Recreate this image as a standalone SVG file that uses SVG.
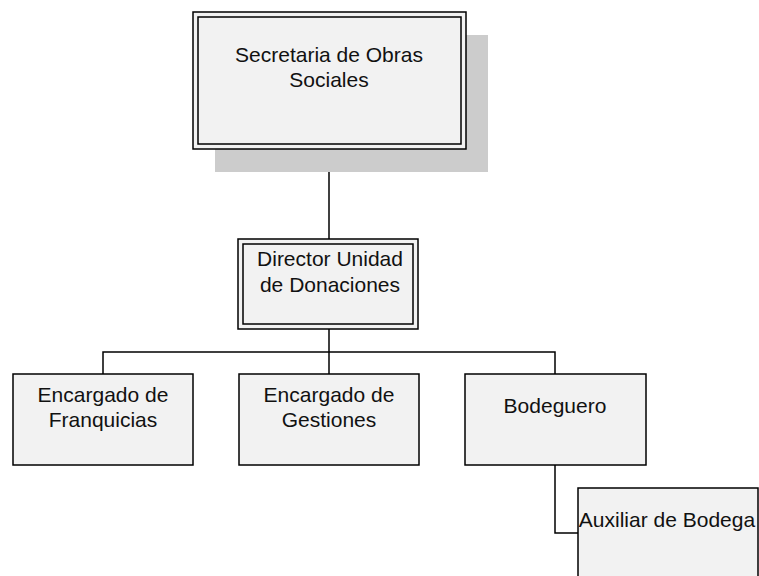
<svg xmlns="http://www.w3.org/2000/svg" width="759" height="576" viewBox="0 0 759 576">
<style>
.box{fill:#f2f2f2;stroke:#000;stroke-width:1.5}
.inner{fill:none;stroke:#000;stroke-width:1.5}
.lbl{font-family:"Liberation Sans",Arial,sans-serif;font-size:21px;fill:#111;text-anchor:middle}
.con{fill:none;stroke:#000;stroke-width:1.5}
</style>
<rect width="759" height="576" fill="#fff"/>
<g id="connectors">
<path class="con" d="M329,149 V239"/>
<path class="con" d="M329,329 V374"/>
<path class="con" d="M103,374 V352 H555 V374"/>
<path class="con" d="M555,465 V533 H578"/>
</g>
<g id="secretaria">
<rect x="215" y="35" width="273" height="137" fill="#cccccc"/>
<rect class="box" x="193" y="12" width="273" height="137"/>
<rect class="inner" x="198" y="17" width="263" height="127"/>
<text class="lbl" x="329" y="62">Secretaria de Obras</text>
<text class="lbl" x="329" y="87">Sociales</text>
</g>
<g id="director">
<rect class="box" x="238" y="239" width="180" height="90"/>
<rect class="inner" x="243" y="244" width="170" height="80"/>
<text class="lbl" x="330" y="266">Director Unidad</text>
<text class="lbl" x="330" y="292">de Donaciones</text>
</g>
<g id="franquicias">
<rect class="box" x="13" y="374" width="180" height="91"/>
<text class="lbl" x="103" y="402">Encargado de</text>
<text class="lbl" x="103" y="427">Franquicias</text>
</g>
<g id="gestiones">
<rect class="box" x="239" y="374" width="180" height="91"/>
<text class="lbl" x="329" y="402">Encargado de</text>
<text class="lbl" x="329" y="427">Gestiones</text>
</g>
<g id="bodeguero">
<rect class="box" x="465" y="374" width="181" height="91"/>
<text class="lbl" x="555" y="413">Bodeguero</text>
</g>
<g id="auxiliar">
<rect class="box" x="578" y="488" width="180" height="91"/>
<text class="lbl" x="667" y="527">Auxiliar de Bodega</text>
</g>
</svg>
